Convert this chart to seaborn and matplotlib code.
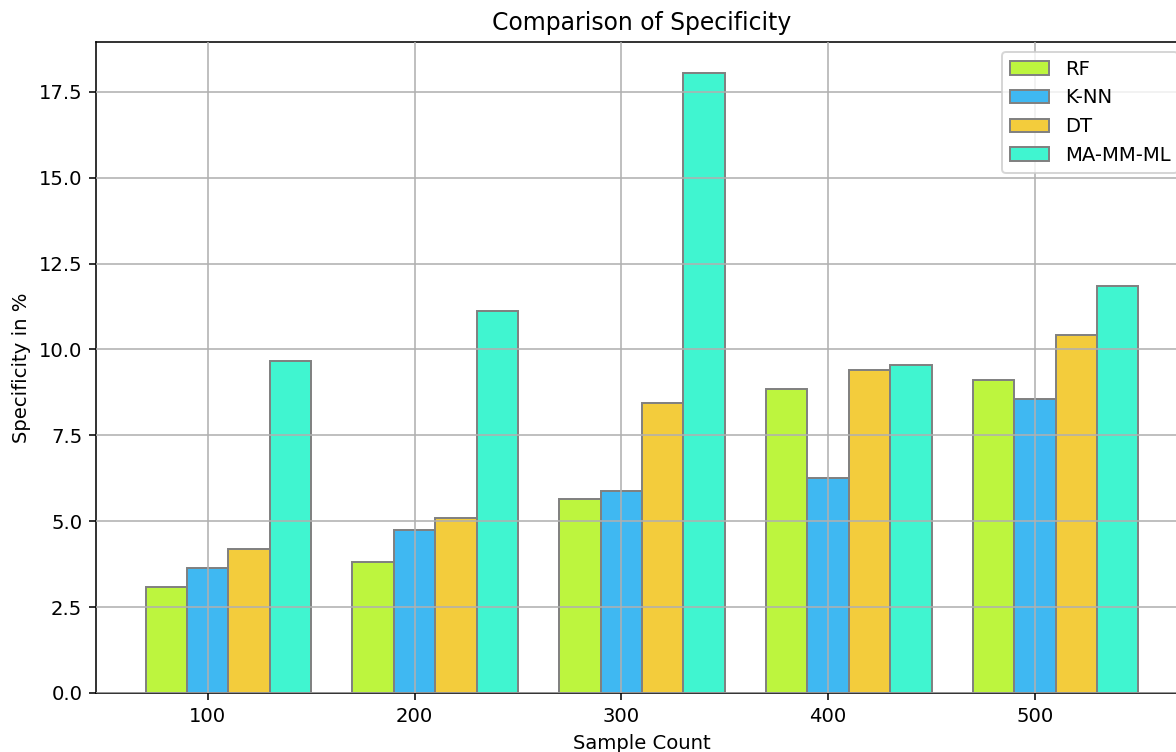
import numpy as np
import pandas as pd
import matplotlib
matplotlib.use("Agg")
import matplotlib.pyplot as plt
import seaborn as sns

sample_counts = ["100", "200", "300", "400", "500"]
models = ["RF", "K-NN", "DT", "MA-MM-ML"]
rf = [3.10, 3.82, 5.65, 8.85, 9.11]
knn = [3.63, 4.75, 5.88, 6.26, 8.55]
dt = [4.20, 5.10, 8.45, 9.41, 10.43]
ma_mm_ml = [9.67, 11.12, 18.05, 9.55, 11.85]
colors = ["#bdf53e", "#3fb8f2", "#f3cc3c", "#40f5d0"]

df = pd.DataFrame({
    "Sample Count": sample_counts * 4,
    "Model": np.repeat(models, len(sample_counts)),
    "Specificity": rf + knn + dt + ma_mm_ml,
})

dpi = 141
fig = plt.figure(figsize=(1176 / dpi, 752 / dpi), dpi=dpi)
ax = fig.add_axes([96 / 1176, 59 / 752, 1092 / 1176, 651 / 752])

sns.barplot(data=df, x="Sample Count", y="Specificity", hue="Model",
            hue_order=models, palette=colors, width=0.8, saturation=1,
            edgecolor="#808080", linewidth=1.0, errorbar=None, ax=ax)

ax.set_xticks(np.arange(len(sample_counts)) - 0.1, sample_counts)
ax.set_xlim(-0.64, 4.64)
ax.set_ylim(0, 18.95)
ax.set_yticks(np.arange(0, 18, 2.5))
ax.grid(True, color="#b0b0b0", linewidth=0.8)
ax.set_axisbelow(False)

ax.set_title("Comparison of Specificity")
ax.set_xlabel("Sample Count")
ax.set_ylabel("Specificity in %")
ax.legend(loc="upper right", title=None)

fig.savefig("out.png", dpi=dpi)
